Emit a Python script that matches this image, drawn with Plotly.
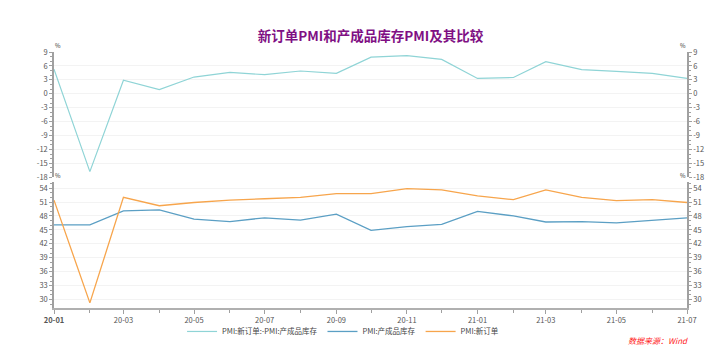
import plotly.graph_objects as go

months = ["2020-01-01","2020-02-01","2020-03-01","2020-04-01","2020-05-01","2020-06-01",
          "2020-07-01","2020-08-01","2020-09-01","2020-10-01","2020-11-01","2020-12-01",
          "2021-01-01","2021-02-01","2021-03-01","2021-04-01","2021-05-01","2021-06-01","2021-07-01"]
new_orders = [51.4, 29.3, 52.0, 50.2, 50.9, 51.4, 51.7, 52.0, 52.8, 52.8, 53.9, 53.6,
              52.3, 51.5, 53.6, 52.0, 51.3, 51.5, 50.9]
inventory = [46.1, 46.1, 49.1, 49.3, 47.3, 46.8, 47.6, 47.1, 48.4, 44.9, 45.7, 46.2,
             49.0, 48.0, 46.7, 46.8, 46.5, 47.1, 47.6]
diff = [5.3, -16.8, 2.9, 0.9, 3.6, 4.6, 4.1, 4.9, 4.4, 7.9, 8.2, 7.4,
        3.3, 3.5, 6.9, 5.2, 4.8, 4.4, 3.3]
tick_dates = ["2020-01-01","2020-03-01","2020-05-01","2020-07-01","2020-09-01","2020-11-01",
              "2021-01-01","2021-03-01","2021-05-01","2021-07-01"]
tick_labels = ["<b>20-01</b>","20-03","20-05","20-07","20-09","20-11","21-01","21-03","21-05","21-07"]
top_ticks = [-18, -15, -12, -9, -6, -3, 0, 3, 6, 9]
bottom_ticks = [30, 33, 36, 39, 42, 45, 48, 51, 54]

C_DIFF = "#8fd4d6"
C_INV = "#5b9fc4"
C_ORD = "#f7a54c"
FONT = "Noto Sans CJK SC, Noto Sans, sans-serif"
TICKCOL = "#555555"
AXCOL = "#a0a0a0"

fig = go.Figure()
fig.add_trace(go.Scatter(x=months, y=diff, mode="lines", name="PMI:新订单:-PMI:产成品库存",
                         line=dict(color=C_DIFF, width=1.2), xaxis="x", yaxis="y"))
fig.add_trace(go.Scatter(x=months, y=inventory, mode="lines", name="PMI:产成品库存",
                         line=dict(color=C_INV, width=1.3), xaxis="x2", yaxis="y2"))
fig.add_trace(go.Scatter(x=months, y=new_orders, mode="lines", name="PMI:新订单",
                         line=dict(color=C_ORD, width=1.3), xaxis="x2", yaxis="y2"))

xr = ["2020-01-01", "2021-07-01"]
ydom_top = [0.511, 1.0]
ydom_bot = [0.0, 0.493]
top_range = [-18, 9]
bot_range = [28.2, 55.35]

def yax(rng, ticks, dom, side="left", anchor="x", grid=True):
    return dict(range=rng, tickvals=ticks, ticktext=[str(t) for t in ticks],
                domain=dom, side=side, anchor=anchor, automargin=False,
                showline=True, linecolor=AXCOL, linewidth=1.5, ticks="outside", ticklen=3,
                tickcolor=AXCOL, tickfont=dict(size=7.5, color=TICKCOL, family=FONT),
                showgrid=grid, gridcolor="#f3f3f3", gridwidth=1, zeroline=False,
                minor=dict(ticks="outside", ticklen=2, dtick=1, tickcolor=AXCOL, showgrid=False),
                fixedrange=True)

fig.update_layout(
    width=715, height=363,
    margin=dict(l=54, r=28, t=52, b=55, autoexpand=False),
    paper_bgcolor="white", plot_bgcolor="white",
    font=dict(family=FONT, size=9, color="#333"),
    title=dict(text="<b>新订单PMI和产成品库存PMI及其比较</b>", x=0.5, xref="paper", xanchor="center",
               y=0.9, yref="container", yanchor="middle", automargin=False,
               font=dict(size=13.5, color="#7f1084", family=FONT)),
    showlegend=True,
    legend=dict(orientation="h", x=0.2023, xanchor="left", y=-0.035, yanchor="top",
                font=dict(size=7.5, color="#444", family=FONT), itemwidth=30,
                bgcolor="rgba(0,0,0,0)"),
    xaxis=dict(type="date", range=xr, domain=[0, 1], anchor="y", showticklabels=False,
               showline=False, ticks="", showgrid=False, zeroline=False, automargin=False),
    xaxis2=dict(type="date", range=xr, domain=[0, 1], anchor="y2", tickvals=tick_dates,
                ticktext=tick_labels, showline=True, linecolor="#b0b0b0", linewidth=2,
                ticks="outside", ticklen=4, tickcolor=AXCOL, showgrid=False, automargin=False,
                tickfont=dict(size=7.5, color=TICKCOL, family=FONT),
                minor=dict(ticks="outside", ticklen=3, dtick="M1", tickcolor=AXCOL, showgrid=False)),
    yaxis=yax(top_range, top_ticks, ydom_top, anchor="x"),
    yaxis2=yax(bot_range, bottom_ticks, ydom_bot, anchor="x2"),
    yaxis3=dict(yax(top_range, top_ticks, ydom_top, side="right", anchor="x", grid=False),
                overlaying="y"),
    yaxis4=dict(yax(bot_range, bottom_ticks, ydom_bot, side="right", anchor="x2", grid=False),
                overlaying="y2"),
)

# ghost traces so the right-hand axes render
fig.add_trace(go.Scatter(x=months, y=diff, mode="lines", line=dict(width=0, color="rgba(0,0,0,0)"),
                         showlegend=False, hoverinfo="skip", xaxis="x", yaxis="y3"))
fig.add_trace(go.Scatter(x=months, y=new_orders, mode="lines", line=dict(width=0, color="rgba(0,0,0,0)"),
                         showlegend=False, hoverinfo="skip", xaxis="x2", yaxis="y4"))

for xp, yp in [(0.006, 1.0), (0.994, 1.0), (0.006, 0.493), (0.994, 0.493)]:
    fig.add_annotation(text="%", x=xp, y=yp, xref="paper", yref="paper",
                       xanchor="center", yanchor="bottom", showarrow=False,
                       font=dict(size=6, color="#333", family=FONT))

fig.add_annotation(text="<i>数据来源：Wind</i>", x=1.005, y=-0.125, xref="paper", yref="paper",
                   xanchor="right", yanchor="middle", showarrow=False,
                   font=dict(size=8, color="#ff2020", family=FONT))

fig.write_html("out.html", config={"displayModeBar": False},
               post_script="document.body.style.margin='0';document.body.style.overflow='hidden';")
